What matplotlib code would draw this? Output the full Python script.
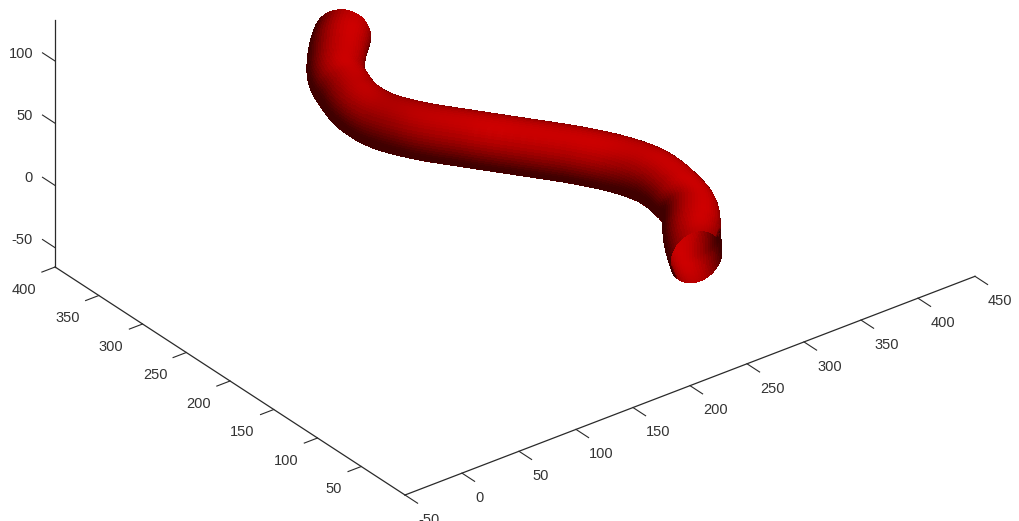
import matplotlib

matplotlib.use('Agg')
import matplotlib.pyplot as plt
import numpy as np
from mpl_toolkits.mplot3d import proj3d

# centre line of the tube
tube_x = [207.6, 192.3, 172.3, 164.5, 159.3, 160.4, 168.3, 185.1, 205.4, 225.1, 240.7, 247.7, 247.1, 241.8, 223.1, 212.2]
tube_y = [407.7, 393.3, 368.4, 347.8, 326.1, 300.0, 266.6, 231.1, 196.8, 162.7, 131.3, 103.6, 76.3, 54.6, 27.8, 9.0]
tube_z = [25.6, 24.7, 25.3, 23.8, 23.4, 23.8, 28.2, 32.1, 34.2, 36.4, 37.3, 37.7, 35.9, 34.0, 33.5, 29.7]
tube_radius = 20.0
# the two cut ends are not square to the line
start_dir = [-19.6, -22.1, 4.9]
end_dir = [-5.5, -25.6, 0.8]

x_ticks = [-50, 0, 50, 100, 150, 200, 250, 300, 350, 400, 450]
y_ticks = [50, 100, 150, 200, 250, 300, 350, 400]
z_ticks = [-50, 0, 50, 100]

ELEV = 30
AZIM = -127.5
STEPS = 20
Z_LOW, Z_HIGH = -65.5, 133

plt.rcParams['axes.unicode_minus'] = False


def smooth_line(pts, steps):
    # catmull-rom between the read points, only to get a fine mesh
    p = np.vstack([2 * pts[0] - pts[1], pts, 2 * pts[-1] - pts[-2]])
    out = []
    for i in range(1, len(p) - 2):
        for t in np.arange(steps) / steps:
            out.append(0.5 * (2 * p[i] + (p[i + 1] - p[i - 1]) * t
                              + (2 * p[i - 1] - 5 * p[i] + 4 * p[i + 1] - p[i + 2]) * t ** 2
                              + (3 * p[i] - p[i - 1] - 3 * p[i + 1] + p[i + 2]) * t ** 3))
    out.append(p[-2])
    return np.array(out)


def unit(v):
    return v / np.linalg.norm(v, axis=-1, keepdims=True)


center = smooth_line(np.column_stack([tube_x, tube_y, tube_z]), STEPS)
tang = unit(np.gradient(center, axis=0))
ring = np.arange(len(center))[:, None]
w_start = np.clip(1 - ring / 25.0, 0, 1)
w_end = np.clip(1 - (len(center) - 1 - ring) / 25.0, 0, 1)
tang = unit((1 - w_start - w_end) * tang + w_start * unit(np.array(start_dir)) + w_end * unit(np.array(end_dir)))
side = unit(np.cross(tang, [0, 0, 1]))
over = np.cross(tang, side)
theta = np.radians(np.arange(0, 361, 6))[None, :, None]
normals = np.cos(theta) * side[:, None, :] + np.sin(theta) * over[:, None, :]
verts = center[:, None, :] + tube_radius * normals

# lighting
a, e = np.radians(AZIM), np.radians(ELEV)
to_eye = np.array([np.cos(e) * np.cos(a), np.cos(e) * np.sin(a), np.sin(e)])
right = np.array([-np.sin(a), np.cos(a), 0])
up = np.array([-np.sin(e) * np.cos(a), -np.sin(e) * np.sin(a), np.cos(e)])
light = unit(to_eye + 0.4 * right + 0.45 * up)

seen = normals * np.sign((normals * to_eye).sum(axis=-1, keepdims=True))
diff = np.clip((seen * light).sum(axis=-1), 0, 1)
half = unit(light + to_eye)
spec = np.clip((seen * half).sum(axis=-1), 0, 1) ** 30

# faint ribs along the middle of the tube
ribs = np.sin(ring * 2 * np.pi / 4.5) * np.exp(-((ring - len(center) * 0.47) / 60.0) ** 2)

red = np.clip(0.25 + 0.7 * diff ** 1.3 + 0.03 * spec + 0.1 * ribs * spec, 0, 1)
green = np.clip(0.07 * spec * (1 + 1.5 * ribs), 0, 1)
colors = np.dstack([red, green, green, np.ones_like(red)])
colors = 0.25 * (colors[:-1, :-1] + colors[1:, :-1] + colors[:-1, 1:] + colors[1:, 1:])

fig = plt.figure(figsize=(10.2, 5.21), dpi=100)
side_px = 1000.0
ax = fig.add_axes([0, 0, side_px / 1020, side_px / 521], projection='3d')
ax.set_proj_type('ortho')
ax.view_init(elev=ELEV, azim=AZIM)
ax.set_xlim(-50, 450)
ax.set_ylim(0, 400)
ax.set_zlim(Z_LOW, Z_HIGH)
zoom = 1.0
box = (500, 400, Z_HIGH - Z_LOW)
ax.set_box_aspect(box, zoom=zoom)

ax.plot_surface(verts[..., 0], verts[..., 1], verts[..., 2], facecolors=colors,
                rstride=1, cstride=1, shade=False, linewidth=0, antialiased=False)

ax.grid(False)
ax.set_xticks(x_ticks)
ax.set_yticks(y_ticks)
ax.set_zticks(z_ticks)
ax.zaxis.set_ticks_position('upper')
# z ticks run along y in the reference, not along x
ax.zaxis._get_tickdir = lambda pos: 1
ink = '#2a2a2a'
axis_opts = ((ax.xaxis, -0.45, 6, 'left', 'top'),
             (ax.yaxis, -0.29, 4.5, 'right', 'top'),
             (ax.zaxis, 0.45, 1, 'right', 'bottom'))
for axis, out_f, pad, ha, va in axis_opts:
    axis.set_pane_color((1, 1, 1, 0))
    axis.pane.set_edgecolor((1, 1, 1, 0))
    axis.line.set_color(ink)
    axis.line.set_linewidth(0.9)
    axis._axinfo['tick']['outward_factor'] = out_f
    axis._axinfo['tick']['inward_factor'] = 0
    axis._axinfo['tick']['linewidth'] = {True: 0.8, False: 0.8}
    axis.set_tick_params(labelsize=10.5, labelcolor='#333333', color=ink, pad=pad, labelfontfamily='Liberation Sans')
    for lab in axis.get_ticklabels():
        lab.set_ha(ha)
        lab.set_va(va)


def to_px(x, y, z):
    xs, ys, _ = proj3d.proj_transform(x, y, z, ax.get_proj())
    return ax.transData.transform((xs, ys))


# line the box up with the reference corners
fig.canvas.draw()
width_now = to_px(450, 0, Z_LOW)[0] - to_px(-50, 0, Z_LOW)[0]
ax.set_box_aspect(box, zoom=zoom * 570.0 / width_now)
fig.canvas.draw()
corner = to_px(-50, 0, Z_LOW)
dx = 405 - corner[0]
dy = (521 - 495) - corner[1]
ax.set_position([dx / 1020, dy / 521, side_px / 1020, side_px / 521])

fig.savefig('out.png', dpi=100, facecolor='white')
